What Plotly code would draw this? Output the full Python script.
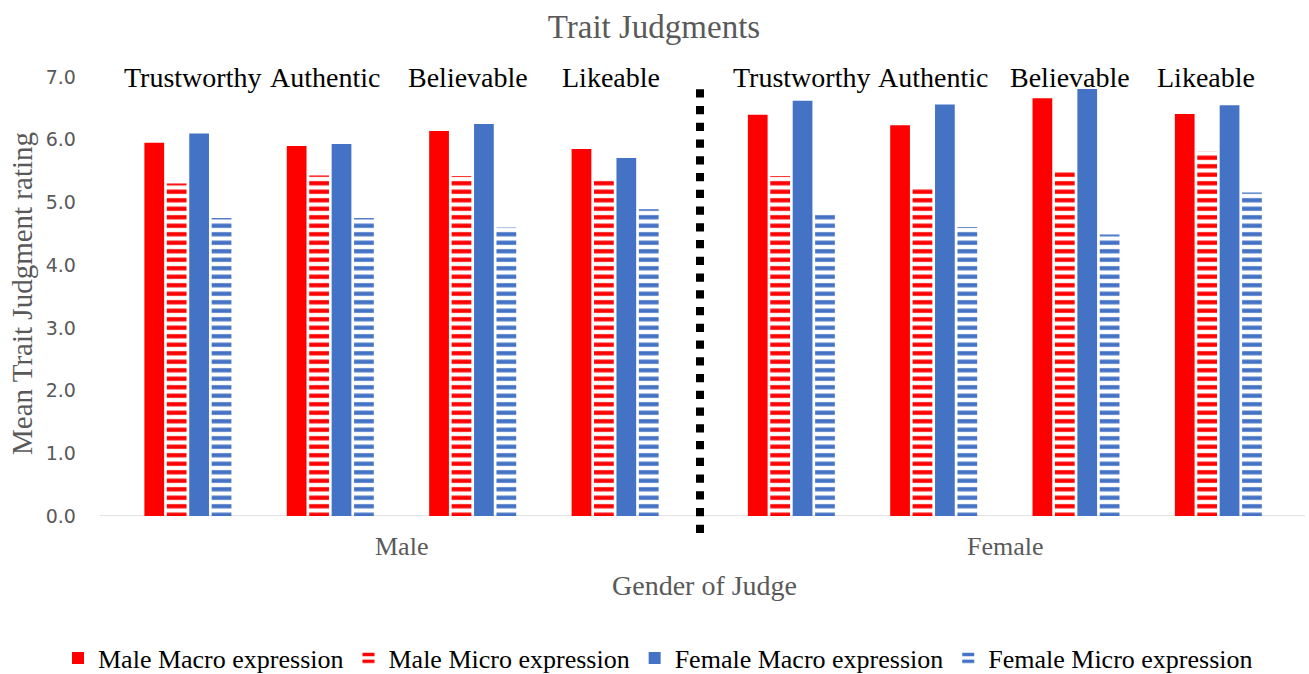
import plotly.graph_objects as go

traits = ["Trustworthy", "Authentic", "Believable", "Likeable"]
judges = ["Male", "Female"]
series_names = ["Male Macro expression", "Male Micro expression",
                "Female Macro expression", "Female Micro expression"]

# values for Male judges
male_macro_mj = [5.95, 5.90, 6.14, 5.85]
male_micro_mj = [5.30, 5.43, 5.42, 5.37]
female_macro_mj = [6.10, 5.93, 6.25, 5.71]
female_micro_mj = [4.75, 4.75, 4.60, 4.89]
# values for Female judges
male_macro_fj = [6.40, 6.23, 6.66, 6.41]
male_micro_fj = [5.42, 5.25, 5.51, 5.81]
female_macro_fj = [6.62, 6.56, 6.81, 6.55]
female_micro_fj = [4.86, 4.61, 4.49, 5.16]

yticks = [0, 1, 2, 3, 4, 5, 6, 7]

RED = "#FF0000"
BLUE = "#4472C4"
GRAY = "#595959"
SERIF = "Liberation Serif, Times New Roman, serif"
SANS = "DejaVu Sans, sans-serif"

styles = [
    dict(color=RED, striped=False),
    dict(color=RED, striped=True),
    dict(color=BLUE, striped=False),
    dict(color=BLUE, striped=True),
]

data_by_judge = {
    "x": [male_macro_mj, male_micro_mj, female_macro_mj, female_micro_mj],
    "x2": [male_macro_fj, male_micro_fj, female_macro_fj, female_micro_fj],
}

fig = go.Figure()
for xa, values in data_by_judge.items():
    for i, (name, st, vals) in enumerate(zip(series_names, styles, values)):
        if st["striped"]:
            marker = dict(color=st["color"],
                          pattern=dict(shape="-", fgcolor=st["color"], bgcolor="white",
                                       size=8.5, solidity=0.5, fillmode="replace"),
                          line=dict(width=0))
        else:
            marker = dict(color=st["color"], line=dict(width=0))
        fig.add_trace(go.Bar(x=traits, y=vals, name=name, marker=marker,
                             xaxis=xa, yaxis="y", legendgroup=name,
                             showlegend=(xa == "x")))

# plot area: left 100, right 1305 (width 1205); top 77, bottom 516
L, R, T, B = 100, 1305, 77, 516
W = R - L
H = B - T

def px_x(p):
    return (p - L) / W

def px_y(p):
    return (B - p) / H

fig.update_layout(
    width=1309, height=674,
    margin=dict(l=L, r=1309 - R, t=T, b=674 - B, autoexpand=False),
    paper_bgcolor="white", plot_bgcolor="white",
    barmode="group", bargap=0.37, bargroupgap=0.12,
    title=dict(text="Trait Judgments", x=654 / 1309, xanchor="center",
               y=1 - 26 / 674, yanchor="middle",
               font=dict(family=SERIF, size=33, color=GRAY)),
    xaxis=dict(domain=[px_x(116.7), px_x(686.3)], showticklabels=False,
               showline=False, showgrid=False, zeroline=False, anchor="y"),
    xaxis2=dict(domain=[px_x(720.2), px_x(1289.5)], showticklabels=False,
                showline=False, showgrid=False, zeroline=False, anchor="y"),
    yaxis=dict(range=[0, 7], tickvals=yticks, tickformat=".1f",
               showgrid=False, zeroline=False, showline=False,
               ticks="outside", ticklen=0, ticklabelstandoff=36,
               tickfont=dict(family=SANS, size=19, color=GRAY)),
    legend=dict(orientation="h", xref="container", x=658 / 1309, xanchor="center",
                yref="container", y=1 - 658 / 674, yanchor="middle",
                font=dict(family=SERIF, size=26, color="black"),
                itemwidth=30, traceorder="normal"),
    showlegend=True,
)

# baseline axis line
fig.add_shape(type="line", xref="paper", yref="y", x0=0, x1=1, y0=0, y1=0,
              line=dict(color="#D9D9D9", width=1.5), layer="below")
# dotted separator
fig.add_shape(type="line", xref="paper", yref="paper",
              x0=px_x(700), x1=px_x(700), y0=px_y(533), y1=px_y(88),
              line=dict(color="black", width=8, dash="8.3px,8.45px"))

label_shift = {"x": [5, -5, -5, -4], "x2": [10, -1, -6, -12]}
annotations = []
for xa in ("x", "x2"):
    for t, sh in zip(traits, label_shift[xa]):
        annotations.append(dict(x=t, y=7.0, xref=xa, yref="y", text=t, showarrow=False,
                                xanchor="center", yanchor="middle", xshift=sh,
                                font=dict(family=SERIF, size=28, color="black")))
for j, cx in zip(judges, (401, 1005)):
    annotations.append(dict(x=px_x(cx), y=px_y(546), xref="paper", yref="paper", text=j,
                            showarrow=False, xanchor="center", yanchor="middle",
                            font=dict(family=SERIF, size=26, color=GRAY)))
annotations.append(dict(x=px_x(704), y=px_y(585), xref="paper", yref="paper",
                        text="Gender of Judge", showarrow=False, xanchor="center",
                        yanchor="middle", font=dict(family=SERIF, size=28, color=GRAY)))
annotations.append(dict(x=px_x(22), y=px_y(294), xref="paper", yref="paper",
                        text="Mean Trait Judgment rating", showarrow=False, textangle=-90,
                        xanchor="center", yanchor="middle",
                        font=dict(family=SERIF, size=29, color=GRAY)))
fig.update_layout(annotations=annotations)

fig.write_html("out.html", config={"displayModeBar": False})

# remove default page margin so the figure sits at the window's top-left corner
with open("out.html", "r", encoding="utf-8") as f:
    html = f.read()
html = html.replace("<head>", "<head><style>html,body{margin:0;padding:0;overflow:hidden;}</style>", 1)
with open("out.html", "w", encoding="utf-8") as f:
    f.write(html)
